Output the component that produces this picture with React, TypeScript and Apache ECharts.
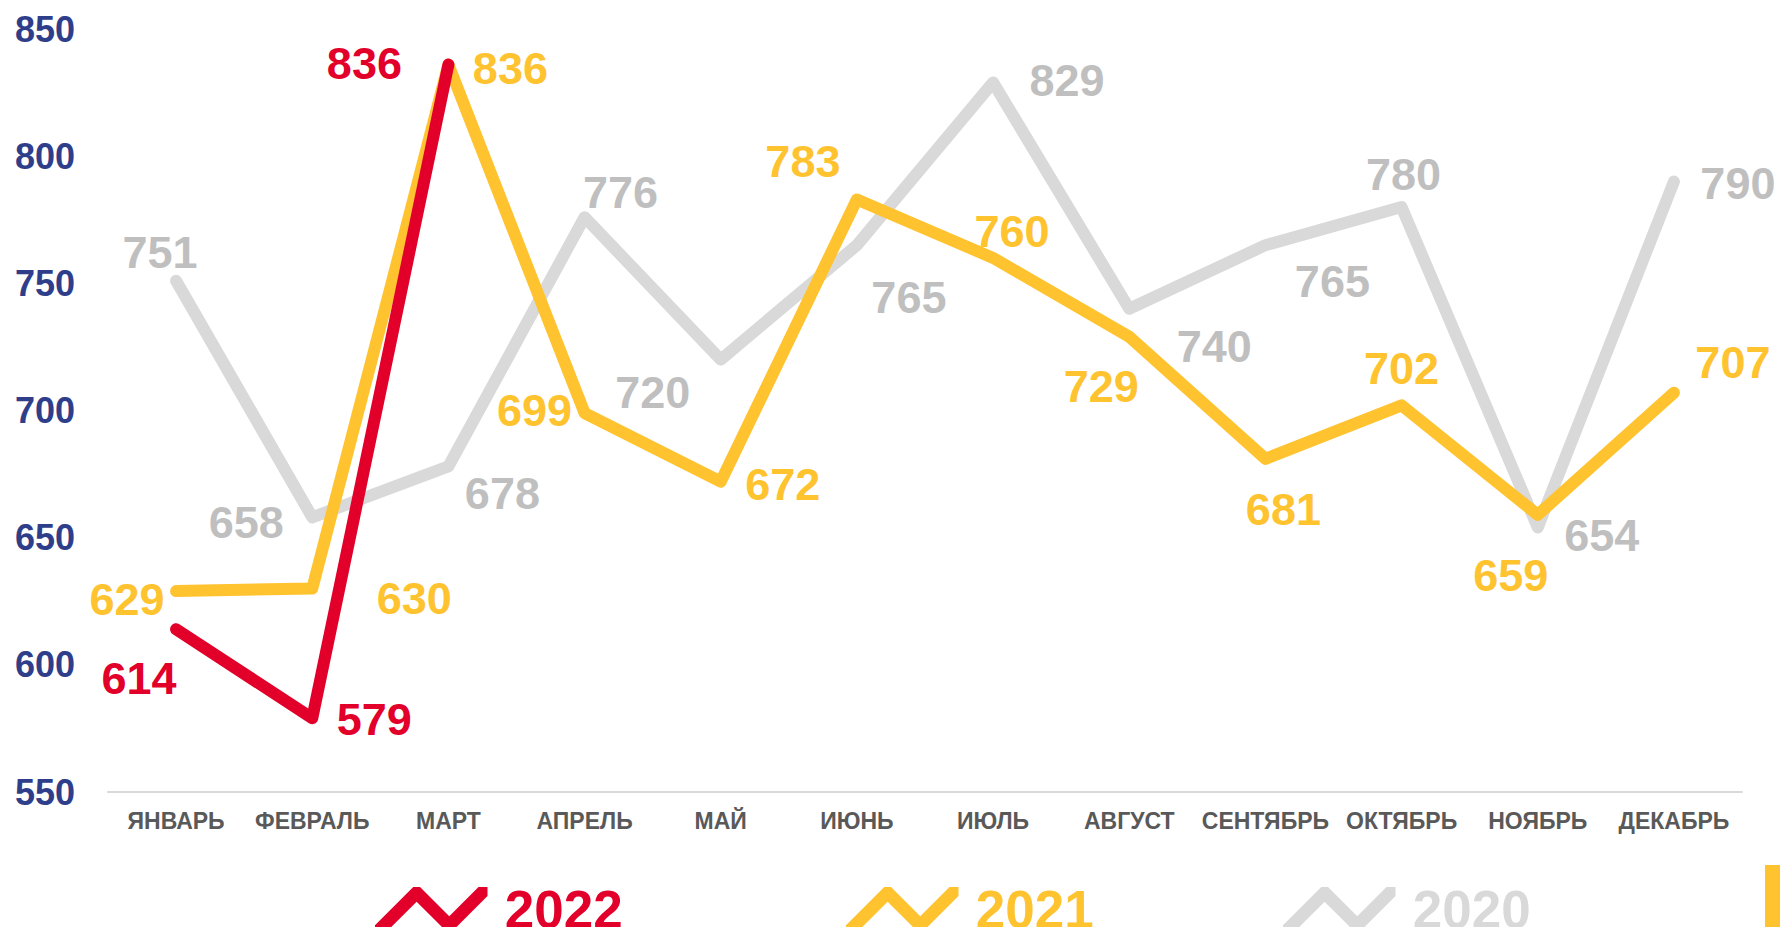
import React, { useEffect, useRef } from "react";
import * as echarts from "echarts";

const months = ["ЯНВАРЬ", "ФЕВРАЛЬ", "МАРТ", "АПРЕЛЬ", "МАЙ", "ИЮНЬ", "ИЮЛЬ", "АВГУСТ", "СЕНТЯБРЬ", "ОКТЯБРЬ", "НОЯБРЬ", "ДЕКАБРЬ"];
const values2020 = [751, 658, 678, 776, 720, 765, 829, 740, 765, 780, 654, 790];
const values2021 = [629, 630, 836, 699, 672, 783, 760, 729, 681, 702, 659, 707];
const values2022 = [614, 579, 836];
const yTicks = [550, 600, 650, 700, 750, 800, 850];

// label offsets (px) relative to each point
const off2020 = [[-16, -28], [-66, 5], [54, 27], [36, -25], [-68, 33], [52, 52], [74, -2], [85, 38], [67, 36], [2, -33], [64, 8], [64, 2]];
const off2021 = [[-49, 8], [102, 10], [62, 4], [-50, -3], [62, 3], [-54, -38], [19, -26], [-28, 50], [18, 51], [0, -37], [-27, 61], [59, -30]];
const off2022 = [[-37, 49], [62, 1], [-84, -1]];

const RED = "#e2002b";
const YELLOW = "#fec32f";
const GRAY = "#d9d9d9";
const GRAY_LABEL = "#bfbfbf";
const FONT = "'Liberation Sans', Arial, sans-serif";

const zigzag = "path://M0,34 L34,0 L40,0 L66,26 L92,0 L100,0 L100,8 L68,40 L64,40 L37,13 L10,40 L0,40 Z";

function mkData(vals: number[], offs: number[][]) {
  return vals.map((v, i) => ({ value: v, label: { offset: offs[i] } }));
}

function mkSeries(name: string, vals: number[], offs: number[][], color: string, labelColor: string, z: number) {
  return {
    name,
    type: "line",
    data: mkData(vals, offs),
    color,
    z,
    symbol: "circle",
    symbolSize: 1,
    lineStyle: { color, width: 12, cap: "round", join: "round" },
    itemStyle: { color },
    label: {
      show: true,
      position: "inside",
      color: labelColor,
      fontSize: 45,
      fontWeight: "bold",
      fontFamily: FONT,
    },
    emphasis: { disabled: true },
  };
}

function mkLegend(name: string, left: number, color: string) {
  return {
    data: [name],
    left,
    top: 883,
    icon: zigzag,
    itemWidth: 113,
    itemHeight: 45,
    itemGap: 0,
    padding: 0,
    selectedMode: false,
    itemStyle: { borderWidth: 0 },
    textStyle: {
      fontSize: 53,
      fontWeight: "bold",
      fontFamily: FONT,
      color,
      padding: [0, 0, 0, 12],
    },
  };
}

export default function App() {
  const ref = useRef<HTMLDivElement>(null);
  useEffect(() => {
    if (!ref.current) return;
    const chart = echarts.init(ref.current, null, { renderer: "svg" });
    chart.setOption({
      animation: false,
      backgroundColor: "#ffffff",
      grid: { left: 108, right: 38, top: 29, bottom: 135 },
      xAxis: {
        type: "category",
        data: months,
        boundaryGap: true,
        axisLine: { lineStyle: { color: GRAY, width: 2 } },
        axisTick: { show: false },
        axisLabel: {
          color: "#595959",
          fontSize: 23,
          fontWeight: "bold",
          fontFamily: FONT,
          margin: 17,
          interval: 0,
        },
      },
      yAxis: {
        type: "value",
        min: yTicks[0],
        max: yTicks[yTicks.length - 1],
        interval: 50,
        splitLine: { show: false },
        axisLine: { show: false },
        axisTick: { show: false },
        axisLabel: {
          color: "#2f3e8a",
          fontSize: 36,
          fontWeight: "bold",
          fontFamily: FONT,
          margin: 33,
        },
      },
      legend: [
        mkLegend("2022", 375, RED),
        mkLegend("2021", 846, YELLOW),
        mkLegend("2020", 1283, GRAY),
      ],
      series: [
        mkSeries("2020", values2020, off2020, GRAY, GRAY_LABEL, 1),
        mkSeries("2021", values2021, off2021, YELLOW, YELLOW, 2),
        mkSeries("2022", values2022, off2022, RED, RED, 3),
      ],
      graphic: [
        {
          type: "rect",
          right: 0,
          top: 865,
          shape: { width: 15, height: 62 },
          style: { fill: YELLOW },
        },
      ],
    });
    return () => chart.dispose();
  }, []);
  return (
    <div
      ref={ref}
      style={{ position: "fixed", left: 0, top: 0, width: 1780, height: 927 }}
    />
  );
}
